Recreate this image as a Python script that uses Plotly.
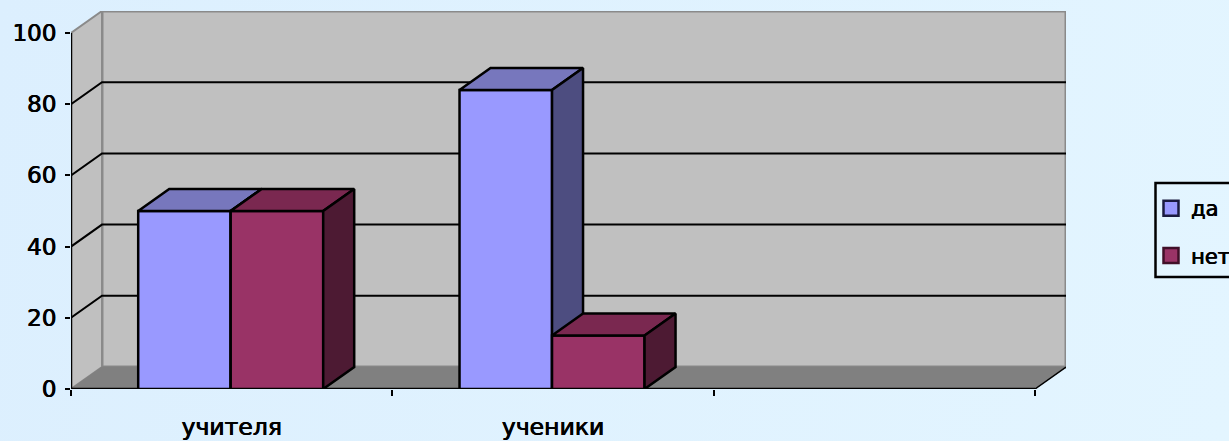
import plotly.graph_objects as go

# Data
categories = ["учителя", "ученики", ""]
series_yes = [50, 84, None]
series_no = [50, 15, None]
y_ticks = [0, 20, 40, 60, 80, 100]

# Style / geometry (axis units)
PX_X, PX_Y = 321.33, 3.56
DX, DY = 31 / PX_X, 22 / PX_Y          # 3-D depth
BAR_W = 92.5 / PX_X
SHIFT = -0.003
X0, X1 = -0.5, len(categories) - 0.5
Y0, Y1 = y_ticks[0], y_ticks[-1]
EDGE = "#000000"
FONT = "DejaVu Sans"
THICK = "0.5px 0 0 #000, -0.3px 0 0 #000"

fig = go.Figure()


def poly(xs, ys, fill, line, width=2, z=0):
    fig.add_trace(go.Scatter(
        x=xs + xs[:1], y=ys + ys[:1], mode="lines", fill="toself", fillcolor=fill,
        line=dict(color=line, width=width), showlegend=False, hoverinfo="skip",
        cliponaxis=False, zorder=z))


def polyline(xs, ys, color, width=2, z=0):
    fig.add_trace(go.Scatter(
        x=xs, y=ys, mode="lines", line=dict(color=color, width=width),
        showlegend=False, hoverinfo="skip", cliponaxis=False, zorder=z))


# walls and floor
WALL_EDGE = "#8A8A8A"
poly([X0 + DX, X1 + DX, X1 + DX, X0 + DX], [Y0 + DY, Y0 + DY, Y1 + DY, Y1 + DY], "#C0C0C0", WALL_EDGE, 3)
poly([X0, X0 + DX, X0 + DX, X0], [Y0, Y0 + DY, Y1 + DY, Y1], "#C0C0C0", WALL_EDGE, 2)
poly([X0, X1, X1 + DX, X0 + DX], [Y0, Y0, Y0 + DY, Y0 + DY], "#808080", "#808080", 1)
polyline([X1, X1 + DX], [Y0, Y0 + DY], "#000000", 1.5)

# gridlines on the walls
gx, gy = [], []
for t in y_ticks[1:-1]:
    gx += [X0, X0 + DX, X1 + DX, None]
    gy += [t, t + DY, t + DY, None]
polyline(gx, gy, "#000000", 2)

# axis lines
polyline([X0, X0], [Y0, Y1], "#000000", 2.5)
polyline([X0, X1], [Y0, Y0], "#000000", 2.5)


def bars3d(values, offset, front, top, side, z):
    xs = [i + SHIFT + offset for i in range(len(values))]
    fig.add_trace(go.Bar(
        x=xs, y=values, width=BAR_W, offset=0, marker=dict(color=front, line=dict(color=EDGE, width=2.5)),
        showlegend=False, hoverinfo="skip", zorder=z))
    for x, v in zip(xs, values):
        if v is None:
            continue
        poly([x, x + BAR_W, x + BAR_W + DX, x + DX], [v, v, v + DY, v + DY], top, EDGE, 2.5, z)
        poly([x + BAR_W, x + BAR_W + DX, x + BAR_W + DX, x + BAR_W], [0, DY, v + DY, v], side, EDGE, 2.5, z)


bars3d(series_yes, -BAR_W, "#9999FF", "#7777BD", "#4D4D80", 2)
bars3d(series_no, 0, "#993366", "#7A2850", "#4D1A33", 3)

# legend entries
for name, color, edge in [("да", "#9999FF", "#1A1A40"), ("нет", "#993366", "#400F28")]:
    fig.add_trace(go.Scatter(
        x=[None], y=[None], mode="markers", name=name, legendgroup=name,
        marker=dict(symbol="square", size=15, color=color, line=dict(color=edge, width=2.5))))

fig.update_layout(
    width=1229, height=441,
    margin=dict(l=71, r=163, t=11, b=52, autoexpand=False),
    paper_bgcolor="rgba(0,0,0,0)", plot_bgcolor="rgba(0,0,0,0)",
    barmode="overlay",
    font=dict(family=FONT, color="#000000"),
    showlegend=True,
    legend=dict(
        x=(1151 - 71) / (1066 - 71), xanchor="left", y=(389 - 188) / 378, yanchor="top",
        bgcolor="rgba(0,0,0,0)", borderwidth=0,
        font=dict(size=21, family=FONT, shadow=THICK), tracegroupgap=17, itemwidth=30,
    ),
    shapes=[dict(type="rect", xref="paper", yref="paper", layer="above",
                 x0=(1155.5 - 71) / 995, x1=(1245 - 71) / 995,
                 y0=(389 - 277) / 378, y1=(389 - 183) / 378,
                 line=dict(color="#000000", width=2.5))],
    xaxis=dict(
        range=[X0, X1 + DX], showgrid=False, zeroline=False,
        tickmode="array", tickvals=list(range(len(categories))), ticktext=categories,
        ticks="", tickfont=dict(size=23.5, family=FONT, shadow=THICK), ticklabelstandoff=21,
        minor=dict(tickmode="array", tickvals=[X0 + i for i in range(len(categories) + 1)],
                   ticks="outside", ticklen=6, tickwidth=2, tickcolor="#000000", showgrid=False),
    ),
    yaxis=dict(
        range=[Y0, Y1 + DY], showgrid=False, zeroline=False,
        tickmode="array", tickvals=y_ticks, ticks="outside", ticklen=5, tickwidth=2,
        tickcolor="#000000", tickfont=dict(size=23, family=FONT, shadow=THICK), ticklabelstandoff=4,
    ),
)

page_style = (
    "document.documentElement.style.background='linear-gradient(100deg,#DCEFFE,#E3F5FF)';"
    "document.body.style.margin='0';document.body.style.overflow='hidden';"
    "document.body.style.background='transparent';"
)
fig.write_html("out.html", post_script=page_style, config={"displayModeBar": False})
